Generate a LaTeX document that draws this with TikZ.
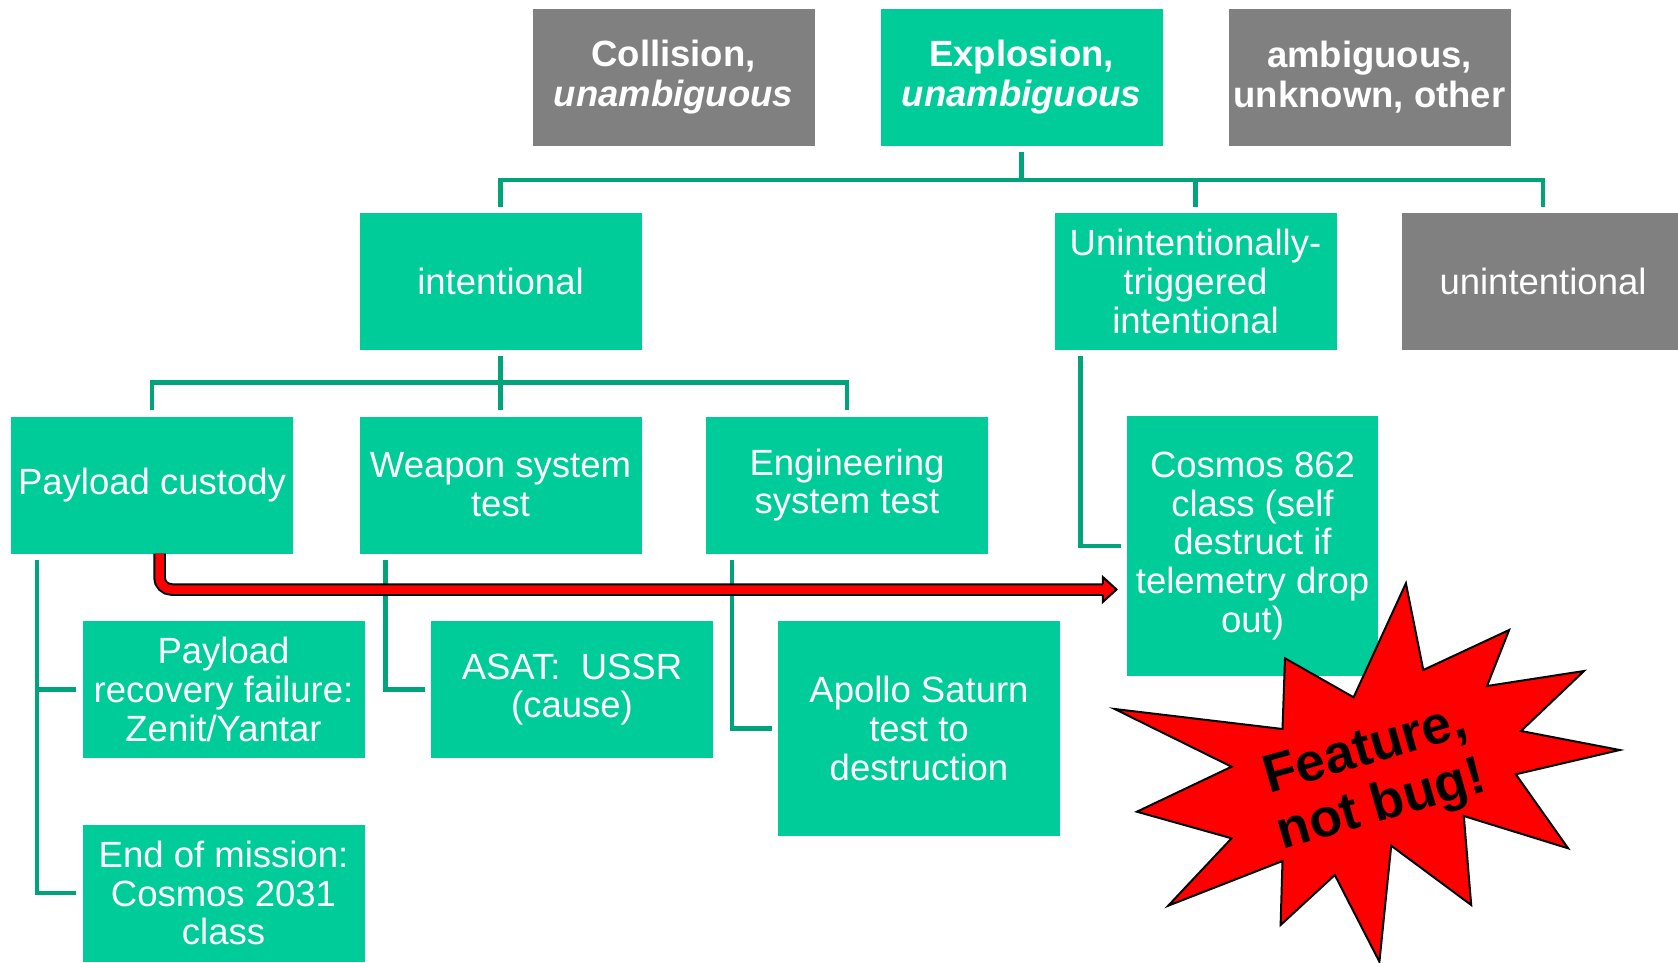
\documentclass[tikz,border=0pt]{standalone}
\usepackage{fontspec}
\setmainfont{Liberation Sans}
\usepackage{xcolor}
\definecolor{boxgreen}{RGB}{0,204,153}
\definecolor{boxgrey}{RGB}{128,128,128}
\definecolor{linkgreen}{RGB}{0,163,122}
\usetikzlibrary{arrows.meta,calc}

\begin{document}
\frenchspacing
\begin{tikzpicture}[
    x=1pt, y=-1pt,
    green box/.style={rectangle, fill=boxgreen, text=white, minimum width=282pt, minimum height=137pt, inner sep=0pt, align=center, font=\fontsize{36.5}{38.8}\selectfont},
    grey box/.style={green box, fill=boxgrey},
    top box/.style={font=\bfseries\fontsize{36.5}{39.6}\selectfont},
    link/.style={draw=linkgreen, line width=4.5pt},
    burst/.style={fill=red, draw=black, line width=2pt}
]
    \useasboundingbox (0,0) rectangle (1678,963);

    % Top row
    \node[grey box, top box] (collision) at (673.5,77.3) {Collision,\\\textit{unambiguous}};
    \node[green box, top box] (explosion) at (1021.5,77.3) {Explosion,\\\textit{unambiguous}};
    \node[grey box, top box] (ambiguous) at (1369.5,77.3) {ambiguous,\\unknown, other};

    % Second row
    \node[green box] (intent) at (500.5,281.5) {intentional};
    \node[green box] (triggered) at (1195.5,281.5) {Unintentionally-\\triggered\\intentional};
    \node[grey box] (unintent) at (1543,281.5) {unintentional};

    % Third row
    \node[green box] (custody) at (152,485) {Payload custody};
    \node[green box] (weapon) at (500.5,485) {Weapon system\\test};
    \node[green box] (engineering) at (847,485) {Engineering\\system test};
    \node[green box, minimum width=251pt, minimum height=260pt] (cosmos) at (1252.5,546) {Cosmos 862\\class (self\\destruct if\\telemetry drop\\out)};

    % Leaves
    \node[green box] (recovery) at (223.5,689.5) {Payload\\recovery failure:\\Zenit/Yantar};
    \node[green box] (asat) at (572,689.5) {ASAT:\ \ USSR\\(cause)};
    \node[green box, minimum height=215pt] (apollo) at (919,728.5) {Apollo Saturn\\test to\\destruction};
    \node[green box] (endmission) at (223.5,893) {End of mission:\\Cosmos 2031\\class};

    % Tree links
    \foreach \c in {intent, triggered, unintent}
        \draw[link] ([yshift=6pt]\c.north) -- ++(0,-27) -| ([yshift=-6pt]explosion.south);
    \foreach \c in {custody, weapon, engineering}
        \draw[link] ([yshift=6pt]\c.north) -- ++(0,-28) -| ([yshift=-6pt]intent.south);
    \foreach \p/\c in {custody/recovery, custody/endmission, weapon/asat, engineering/apollo, triggered/cosmos}
        \draw[link] ([xshift=26pt,yshift=-6pt]\p.south west) |- ([xshift=-6pt]\c.west);

    % Red arrow
    \draw[line width=2pt, double=red, double distance=8.5pt, rounded corners=12pt]
        ([xshift=7.5pt]custody.south) |- ([xshift=-24pt,yshift=-43.5pt]cosmos.west) coordinate (head);
    \filldraw[fill=red, draw=black, line width=2pt, line join=miter]
        (head) ++(0,-5.5) -- ++(0,-7) -- ++(13.7,12.5) -- ++(-13.7,12.5) -- ++(0,-7);

    % Starburst
    \filldraw[burst] (1405.9,583.3) -- (1423.3,670) -- (1509.1,630) -- (1487,686)
        -- (1584,671) -- (1521,731) -- (1619.7,750) -- (1515.8,774.3)
        -- (1568.1,848.3) -- (1463.8,816) -- (1471.2,905) -- (1391.2,845.7)
        -- (1379.4,961.7) -- (1334.8,875) -- (1280.6,925) -- (1282.5,861)
        -- (1168.2,905.7) -- (1231.6,838.3) -- (1136.9,811.7) -- (1231.6,766.7)
        -- (1114.7,709) -- (1282.5,729) -- (1285,658.3) -- (1353.6,697.3) -- cycle;
    \node[rotate=16, align=center, font=\bfseries\fontsize{53.5}{58}\selectfont] (feature) at (1374,780) {Feature,\\not bug!};
\end{tikzpicture}
\end{document}
